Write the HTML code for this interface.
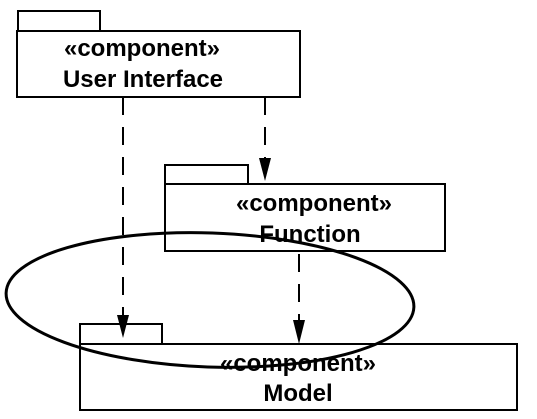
<!DOCTYPE html>
<html><head><style>body{margin:0;background:#fff}</style></head><body>
<svg width="537" height="414" xmlns="http://www.w3.org/2000/svg" font-family="Liberation Sans, sans-serif" font-weight="bold" font-size="24" text-anchor="middle">
<g fill="#fff" stroke="#000" stroke-width="2">
<rect x="18" y="11" width="82" height="20"/>
<rect x="17" y="31" width="283" height="66"/>
<rect x="165" y="165" width="83" height="19"/>
<rect x="165" y="184" width="280" height="67"/>
<rect x="80" y="324" width="82" height="20"/>
<rect x="80" y="344" width="437" height="66"/>
</g>
<text x="142" y="56">«component»</text>
<text x="143" y="87">User Interface</text>
<text x="314" y="211">«component»</text>
<text x="310" y="242">Function</text>
<text x="298" y="371">«component»</text>
<text x="298" y="401">Model</text>
<g stroke="#000" stroke-width="2" stroke-dasharray="18,12" fill="none">
<line x1="123" y1="97" x2="123" y2="325"/>
<line x1="265" y1="97" x2="265" y2="165"/>
<line x1="299" y1="254" x2="299" y2="325"/>
</g>
<g fill="#000">
<polygon points="117,315 129,315 123,338"/>
<polygon points="259,158 271,158 265,181"/>
<polygon points="293,320 305,320 299,344"/>
</g>
<ellipse cx="210" cy="300" rx="204" ry="67" fill="none" stroke="#000" stroke-width="3" transform="rotate(2 210 300)"/>
</svg>
</body></html>
